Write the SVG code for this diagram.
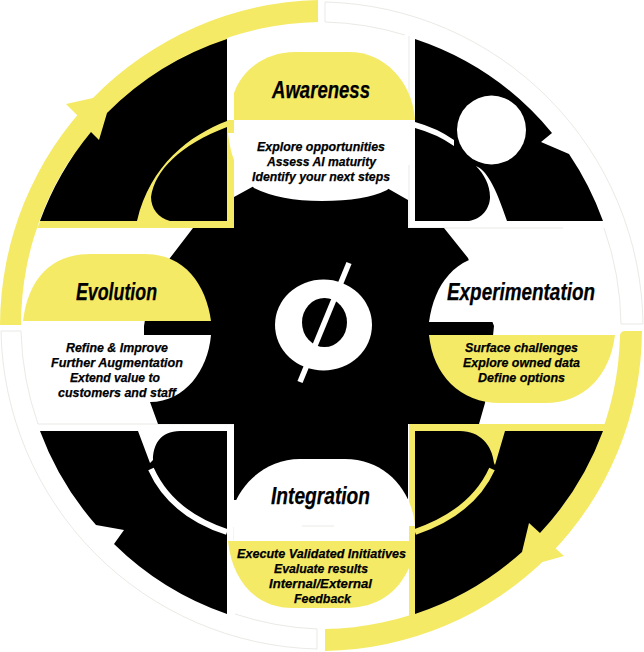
<svg xmlns="http://www.w3.org/2000/svg" width="644" height="652" viewBox="0 0 644 652">
<style>
.y{fill:#f5ea66}
.k{fill:#000}
.w{fill:#fff}
.g{fill:none;stroke:#e0e0da;stroke-width:.7}
text{font-family:"Liberation Sans",Arial,sans-serif;font-weight:700;font-style:italic;fill:#000;text-anchor:start;stroke:#000;stroke-width:.25}
.t{font-size:23px}
.b{font-size:13px}
</style>
<rect class="w" width="644" height="652"/>
<g id="connectors">
<g id="ring-top-left">
<path class="y" d="M318 0A326 326 0 0 0 0 325H21A303 303 0 0 1 318 22Z"/>
<path class="y" d="M66 104L93 98L107 113L99 140L91 132L78 116Z"/>
<path class="y" d="M37 228H234V120H227V34L100 100Z"/>
</g>
<g id="ring-bottom-right">
<path class="y" d="M620 335Q621 331 625 331H642A322 322 0 0 1 325 651V629A300 300 0 0 0 620 335Z"/>
<path class="y" d="M555 548L564 556L539 563L522 552L529 523L540 533Z"/>
<path class="y" d="M409 424H606L540 540L409 618Z"/>
</g>
<g id="ring-top-right">
<path class="g" d="M325 22V2A326 326 0 0 1 643 324H621A300 300 0 0 0 604 228"/>
<path class="g" d="M325 22A300 300 0 0 1 405 35M409 36V120M409 165V228H563"/>
</g>
<g id="ring-bottom-left">
<path class="g" d="M317 629V649A324 324 0 0 1 1 331H21A303 303 0 0 0 38 424H234"/>
<path class="g" d="M235 614A303 303 0 0 0 317 629M234 527V540"/>
</g>
</g>
<g id="hub">
<path class="k" d="M234 197L254 186L322 180L387 188L408 200V228H444L468 258L494 326L490 365L485 403L479 424H408V500H234V424H158L150 402L144 365V326L150 290L170 258L193 228H234Z"/>
<ellipse class="w" cx="323.500" cy="325" rx="48.500" ry="45.500"/>
<ellipse class="k" cx="324.500" cy="322.500" rx="22.500" ry="24.500"/>
<path d="M349 263L300 382" fill="none" stroke="#fff" stroke-width="5.500"/>
</g>
<g id="quadrant-top-left">
<path class="k" d="M227 221H40A301 301 0 0 1 91 132L99 140L107 113A301 301 0 0 1 227 39Z"/>
<path class="y" d="M227 121C190 135 150 165 137 221H170C158 218 151 208 151 197C155 170 180 145 227 127Z"/>
</g>
<g id="quadrant-top-right">
<path class="k" d="M415 221V39A301 301 0 0 1 552 133L541 142L569 154A301 301 0 0 1 603 221Z"/>
<path class="w" d="M415 122Q437 128 454 140L454 146Q437 134 415 128Z"/>
<path class="w" d="M476 166C486 170 495 185 507 221H469C482 219 490 208 490 197C490 185 484 174 476 166Z"/>
<circle class="w" cx="491.500" cy="130" r="34.500"/>
</g>
<g id="quadrant-bottom-right">
<path class="k" d="M415 431H603A301 301 0 0 1 540 533L529 523L522 552A301 301 0 0 1 415 614Z"/>
<path class="y" d="M505 431L495 465L494 463C492 445 480 431 460 431Z"/>
<path d="M492 469C478 500 450 520 415 532" fill="none" stroke="#f5ea66" stroke-width="6"/>
</g>
<g id="quadrant-bottom-left">
<path class="k" d="M227 431V614A301 301 0 0 1 114 544L124 530L96 525A301 301 0 0 1 40 431Z"/>
<path class="w" d="M138 431L150 463L153 460C153 445 160 431 180 431Z"/>
<path d="M151 469C165 500 190 520 227 532" fill="none" stroke="#fff" stroke-width="6"/>
</g>
<g id="awareness">
<path class="y" d="M234 120V93C242 70 265 52 295 52H349C385 52 412 82 415 119V120Z"/>
<path class="w" d="M234 120H408V170L387 190Q365 201 322 201Q280 201 254 188L240 172C233 160 230 150 228 133H234Z"/>
<text class="t" x="272" y="98" textLength="98" lengthAdjust="spacingAndGlyphs">Awareness</text>
<text class="b" x="257" y="151" textLength="128" lengthAdjust="spacingAndGlyphs">Explore opportunities</text>
<text class="b" x="267" y="166" textLength="109" lengthAdjust="spacingAndGlyphs">Assess AI maturity</text>
<text class="b" x="252" y="181" textLength="138" lengthAdjust="spacingAndGlyphs">Identify your next steps</text>
</g>
<g id="experimentation">
<path class="w" d="M429 322C434 285 455 255 495 255H565C595 255 612 285 615 322Z"/>
<path class="y" d="M429 335H615C610 375 585 403 545 403H500C460 403 433 375 429 335Z"/>
<text class="t" x="447" y="300" textLength="148" lengthAdjust="spacingAndGlyphs">Experimentation</text>
<text class="b" x="465" y="352" textLength="113" lengthAdjust="spacingAndGlyphs">Surface challenges</text>
<text class="b" x="463" y="367" textLength="117" lengthAdjust="spacingAndGlyphs">Explore owned data</text>
<text class="b" x="478" y="382" textLength="87" lengthAdjust="spacingAndGlyphs">Define options</text>
</g>
<g id="integration">
<path class="w" d="M229 526C232 490 262 459 300 459H345C385 459 412 490 415 526Z"/>
<rect class="w" x="234" y="526" width="175" height="15"/>
<path class="y" d="M228 541H409V568C398 592 378 608 345 608H293C255 608 232 580 228 541Z"/>
<path d="M302 526H334" fill="none" stroke="#e0e0da" stroke-width=".7"/>
<text class="t" x="271" y="504" textLength="99" lengthAdjust="spacingAndGlyphs">Integration</text>
<text class="b" x="237" y="558" textLength="169" lengthAdjust="spacingAndGlyphs">Execute Validated Initiatives</text>
<text class="b" x="274" y="573" textLength="94" lengthAdjust="spacingAndGlyphs">Evaluate results</text>
<text class="b" x="269" y="588" textLength="103" lengthAdjust="spacingAndGlyphs">Internal/External</text>
<text class="b" x="294" y="603" textLength="57" lengthAdjust="spacingAndGlyphs">Feedback</text>
</g>
<g id="evolution">
<path class="y" d="M23 321C28 280 50 254 90 254H145C185 254 206 285 211 321Z"/>
<path class="w" d="M144 335H211C208 370 185 402 150 402H144Z"/>
<text class="t" x="76" y="300" textLength="81" lengthAdjust="spacingAndGlyphs">Evolution</text>
<text class="b" x="66" y="352" textLength="102" lengthAdjust="spacingAndGlyphs">Refine &amp; Improve</text>
<text class="b" x="51" y="367" textLength="132" lengthAdjust="spacingAndGlyphs">Further Augmentation</text>
<text class="b" x="70" y="382" textLength="90" lengthAdjust="spacingAndGlyphs">Extend value to</text>
<text class="b" x="58" y="397" textLength="118" lengthAdjust="spacingAndGlyphs">customers and staff</text>
</g>
</svg>
